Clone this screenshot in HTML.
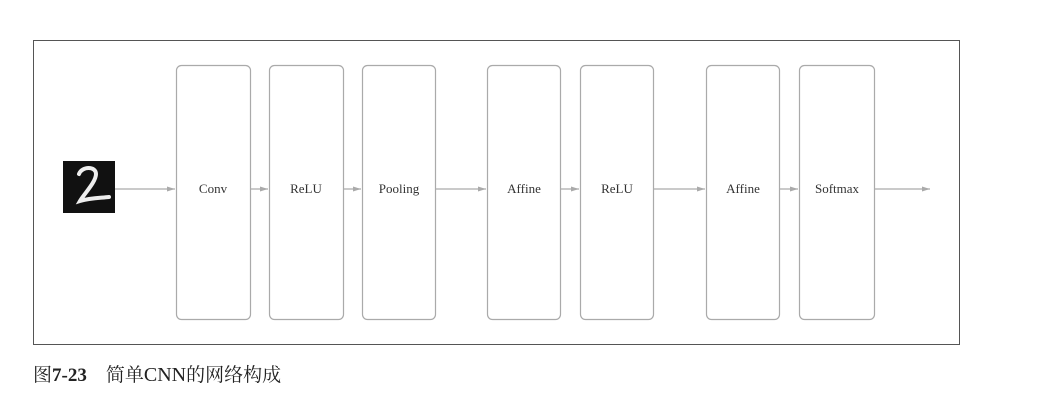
<!DOCTYPE html>
<html><head><meta charset="utf-8"><style>
body{margin:0;width:1063px;height:408px;background:#fff;overflow:hidden}
</style></head><body>
<svg width="1063" height="408" xmlns="http://www.w3.org/2000/svg" font-family="Liberation Serif, serif">
<defs><marker id="a" markerWidth="8" markerHeight="6" refX="8" refY="3" orient="auto" markerUnits="userSpaceOnUse"><path d="M0,0.5 L8,3 L0,5.5 Z" fill="#aaa"/></marker></defs>
<rect x="33.5" y="40.5" width="926" height="304" fill="none" stroke="#555" stroke-width="1"/>
<g fill="none" stroke="#aaa" stroke-width="1.2">
<rect x="176.5" y="65.5" width="74" height="254" rx="5"/>
<rect x="269.5" y="65.5" width="74" height="254" rx="5"/>
<rect x="362.5" y="65.5" width="73" height="254" rx="5"/>
<rect x="487.5" y="65.5" width="73" height="254" rx="5"/>
<rect x="580.5" y="65.5" width="73" height="254" rx="5"/>
<rect x="706.5" y="65.5" width="73" height="254" rx="5"/>
<rect x="799.5" y="65.5" width="75" height="254" rx="5"/>
<g marker-end="url(#a)">
<line x1="115" y1="189" x2="175" y2="189"/>
<line x1="251" y1="189" x2="268" y2="189"/>
<line x1="344" y1="189" x2="361" y2="189"/>
<line x1="436" y1="189" x2="486" y2="189"/>
<line x1="561" y1="189" x2="579" y2="189"/>
<line x1="654" y1="189" x2="705" y2="189"/>
<line x1="780" y1="189" x2="798" y2="189"/>
<line x1="875" y1="189" x2="930" y2="189"/>
</g></g>
<rect x="63" y="161" width="52" height="52" fill="#111"/>
<path d="M79,174 C82,166 96,166 96,174 C96,182 84,194 80,201 C90,198 100,198 109,197" fill="none" stroke="#eee" stroke-width="4" stroke-linecap="round"/>
<g font-size="13" fill="#333" text-anchor="middle">
<text x="213" y="193">Conv</text><text x="306" y="193">ReLU</text><text x="399" y="193">Pooling</text>
<text x="524" y="193">Affine</text><text x="617" y="193">ReLU</text><text x="743" y="193">Affine</text><text x="837" y="193">Softmax</text>
</g>
<text x="33" y="381" font-size="19" fill="#222" font-family="Liberation Serif, Noto Serif CJK SC, serif">图<tspan font-weight="bold">7-23</tspan>　简单<tspan font-size="20">CNN</tspan>的网络构成</text>
</svg>
</body></html>
